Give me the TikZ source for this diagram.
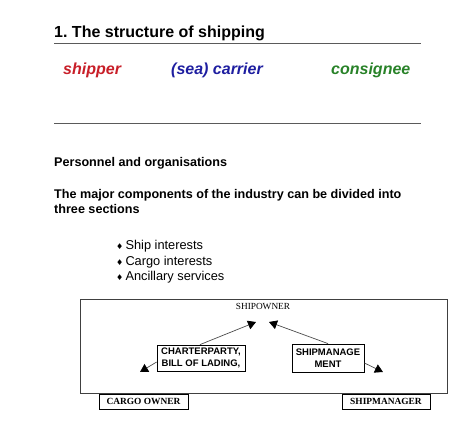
\documentclass[tikz,border=0pt]{standalone}
\usepackage{fontspec}
\setmainfont{Liberation Sans}
\newfontfamily\serifb{Liberation Serif}
\newfontfamily\dejavu{DejaVu Sans}
\usetikzlibrary{arrows.meta}
\frenchspacing
\definecolor{shipred}{RGB}{200,30,40}
\definecolor{carblue}{RGB}{30,30,160}
\definecolor{consgreen}{RGB}{40,130,40}
\definecolor{rulegray}{RGB}{90,90,90}
\tikzset{
  txt/.style={anchor=base west, inner sep=0pt},
  boldbox/.style={draw, line width=0.8pt, font=\fontsize{9.5}{11.5}\selectfont\bfseries, align=center, inner sep=1pt},
  serifbox/.style={draw, line width=0.6pt, font=\serifb\fontsize{9.4}{10}\selectfont\bfseries, inner sep=0pt},
  arr/.style={draw=black!70, line width=0.7pt, -{Triangle[length=8pt,width=9pt,fill=black,color=black]}},
  rule/.style={draw=rulegray, line width=0.8pt},
  colhead/.style={txt, font=\fontsize{16}{18}\selectfont\bfseries\itshape}
}
\begin{document}
\begin{tikzpicture}[x=1pt,y=-1pt]
\useasboundingbox (0,0) rectangle (474,443);
\node[txt, font=\fontsize{16}{18}\selectfont\bfseries] (title) at (54,38) {1. The structure of shipping};
\draw[rule] (54,43) -- (421,43);
\node[colhead, text=shipred] (shipper) at (63,75) {shipper};
\node[colhead, text=carblue] (carrier) at (171,75) {(sea) carrier};
\node[colhead, text=consgreen] (consignee) at (331,75) {consignee};
\draw[rule] (54,123) -- (421,123);
\node[txt, font=\fontsize{12.6}{14}\selectfont\bfseries] (pers) at (54,167) {Personnel and organisations};
\node[txt, font=\fontsize{12.6}{14}\selectfont\bfseries] (major) at (54,199) {The major components of the industry can be divided into};
\node[txt, font=\fontsize{12.6}{14}\selectfont\bfseries] (three) at (54,214) {three sections};
\node[txt, font=\fontsize{12.8}{14}\selectfont] (b1) at (116,250) {{\dejavu\fontsize{8}{8}\selectfont ♦}\,Ship interests};
\node[txt, font=\fontsize{12.8}{14}\selectfont] (b2) at (116,266) {{\dejavu\fontsize{8}{8}\selectfont ♦}\,Cargo interests};
\node[txt, font=\fontsize{12.8}{14}\selectfont] (b3) at (116,281) {{\dejavu\fontsize{8}{8}\selectfont ♦}\,Ancillary services};
% diagram
\node[draw=black!75, line width=0.7pt, minimum width=367pt, minimum height=94pt, inner sep=0pt, anchor=north west] (frame) at (80,299) {};
\node[font=\serifb\fontsize{9.3}{10}\selectfont, inner sep=1pt] (owner) at (263,306) {SHIPOWNER};
\node[boldbox, minimum width=88pt, minimum height=26pt] (charter) at (201,358) {CHARTERPARTY,\\BILL OF LADING,};
\node[boldbox, minimum width=72pt, minimum height=28pt] (mgmt) at (328,358) {SHIPMANAGE\\MENT};
\node[serifbox, minimum width=89pt, minimum height=15pt] (cargo) at (143.5,401.5) {CARGO OWNER};
\node[serifbox, minimum width=88pt, minimum height=15pt] (manager) at (386,401.5) {SHIPMANAGER};
\coordinate (tipL) at (256,322);
\coordinate (tipR) at (269,322);
\coordinate (tipCL) at (140,372);
\coordinate (tipCR) at (383,372);
\draw[arr] (charter.north) ++(-1,0) -- (tipL);
\draw[arr] (mgmt.north) -- (tipR);
\draw[arr] (charter.west) ++(0,4) -- (tipCL);
\draw[arr] (mgmt.east) ++(0,5) -- (tipCR);
\end{tikzpicture}
\end{document}
